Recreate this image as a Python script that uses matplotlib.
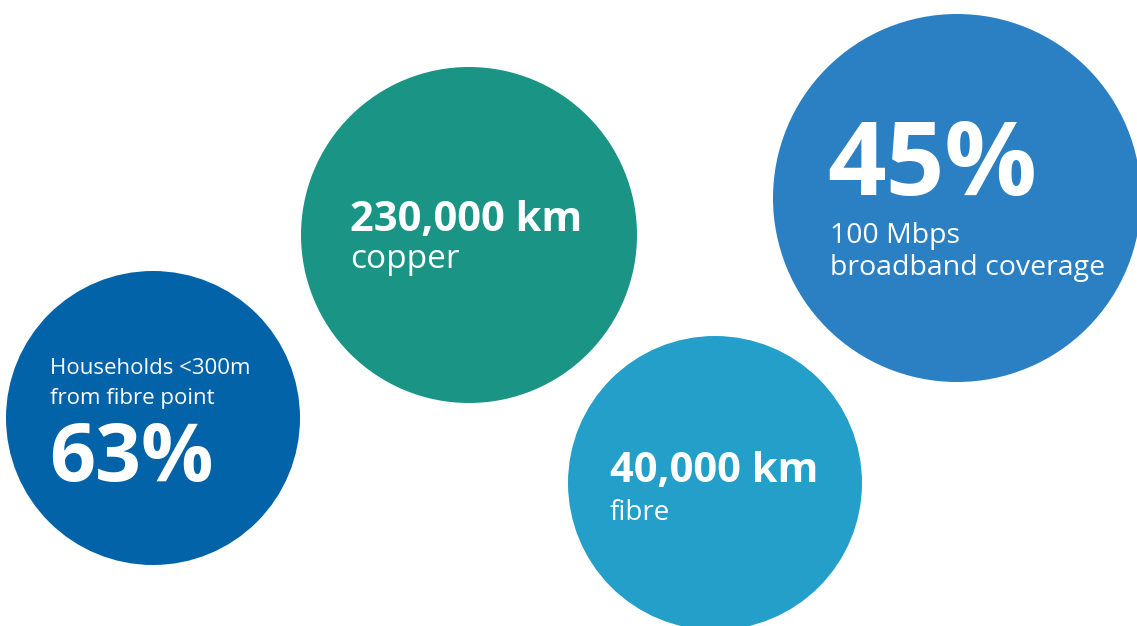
import matplotlib.pyplot as plt
from matplotlib.patches import Circle

plt.rcParams['font.family'] = ['Open Sans', 'DejaVu Sans']

# figures shown in each bubble
big_values = ['63%', '230,000 km', '40,000 km', '45%']
small_labels = ['Households <300m\nfrom fibre point', 'copper', 'fibre',
                '100 Mbps\nbroadband coverage']
colors = ['#0263a9', '#1a9585', '#239fca', '#2b80c3']

# layout in pixels (x, y from top, radius)
centers = [(153, 418), (469, 235), (715, 483), (957, 198)]
radii = [147, 168, 147, 184]

fig = plt.figure(figsize=(11.37, 6.26), dpi=100)
ax = fig.add_axes([0, 0, 1, 1])
ax.set_xlim(0, 1137)
ax.set_ylim(626, 0)
ax.axis('off')

for (cx, cy), r, c in zip(centers, radii, colors):
    ax.add_patch(Circle((cx, cy), r, color=c, lw=0))

# 63% bubble: label above number
line1, line2 = small_labels[0].split('\n')
ax.text(50, 374, line1, color='white', fontsize=16, va='baseline')
ax.text(50, 404, line2, color='white', fontsize=16, va='baseline')
ax.text(49, 481, big_values[0], color='white', fontsize=58, fontweight='bold', va='baseline')

# 230,000 km copper
ax.text(350, 231, big_values[1], color='white', fontsize=30, fontweight='bold', va='baseline')
ax.text(350, 268, small_labels[1], color='white', fontsize=24, va='baseline')

# 40,000 km fibre
ax.text(610, 482, big_values[2], color='white', fontsize=30, fontweight='bold', va='baseline')
ax.text(610, 520, small_labels[2], color='white', fontsize=20, va='baseline')

# 45% bubble
line1, line2 = small_labels[3].split('\n')
ax.text(827, 195, big_values[3], color='white', fontsize=74, fontweight='bold', va='baseline')
ax.text(830, 243, line1, color='white', fontsize=20.5, va='baseline')
ax.text(830, 275, line2, color='white', fontsize=20.5, va='baseline')

fig.savefig('out.png', dpi=100)
